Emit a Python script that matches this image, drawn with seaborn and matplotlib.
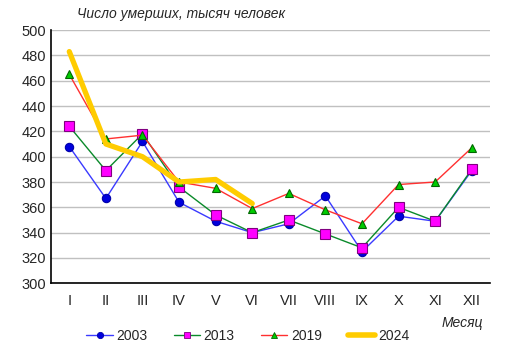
import pandas as pd
import seaborn as sns
import matplotlib.pyplot as plt
from matplotlib.lines import Line2D

#%% data
months = ['I', 'II', 'III', 'IV', 'V', 'VI', 'VII', 'VIII', 'IX', 'X', 'XI', 'XII']
y2003 = [408, 367, 412, 364, 349, 340, 347, 369, 325, 353, 349, 389]
y2013 = [424, 389, 418, 376, 354, 340, 350, 339, 328, 360, 349, 390]
y2019 = [465, 414, 417, 380, 375, 359, 371, 358, 347, 378, 380, 407]
y2024 = [483, 410, 400, 380, 382, 363]

#%% long table
rows = []
for name, vals in [('2003', y2003), ('2013', y2013), ('2019', y2019), ('2024', y2024)]:
    for i, v in enumerate(vals):
        rows.append({'year': name, 'pos': i, 'value': v})
df = pd.DataFrame(rows)

#%% styles: line colour and marker colour differ per series
styles = {
    '2003': dict(color='#3a3aff', marker='o', mfc='#0000dd', mec='#0000aa', ms=6, lw=1.0),
    '2013': dict(color='#0a8a2a', marker='s', mfc='#ff00ff', mec='#800080', ms=6.5, lw=1.0),
    '2019': dict(color='#ff3030', marker='^', mfc='#00cc00', mec='#006600', ms=6, lw=1.0),
    '2024': dict(color='#ffcc00', marker=None, mfc=None, mec=None, ms=0, lw=3.8),
}

sns.set_style('white')
plt.rcParams['font.family'] = ['Liberation Sans', 'DejaVu Sans']

fig = plt.figure(figsize=(5.11, 3.58), dpi=100)
ax = fig.add_axes([0.0998, 0.2087, 0.8592, 0.7073])

handles = []
for name, st in styles.items():
    sub = df[df['year'] == name]
    kw = dict(color=st['color'], linewidth=st['lw'], zorder=5 if name == '2024' else 3)
    if st['marker']:
        kw.update(marker=st['marker'], markerfacecolor=st['mfc'], markeredgecolor=st['mec'],
                  markersize=st['ms'], markeredgewidth=0.8)
    sns.lineplot(data=sub, x='pos', y='value', ax=ax, sort=False, legend=False, **kw)
    if st['marker']:
        handles.append(Line2D([], [], color=st['color'], lw=1.0, marker=st['marker'],
                              markerfacecolor=st['mfc'], markeredgecolor=st['mec'],
                              markersize=4.5, markeredgewidth=0.6))
    else:
        handles.append(Line2D([], [], color=st['color'], lw=4))

ax.set_xlim(-0.5, 11.5)
ax.set_ylim(300, 500)
ax.set_yticks(range(300, 501, 20))
ax.set_xticks(range(12))
ax.set_xticklabels(months)
ax.tick_params(axis='both', labelsize=10.5, length=0)
ax.tick_params(axis='x', pad=8)
ax.yaxis.grid(True, color='#c0c0c0', linewidth=1)
ax.set_axisbelow(True)
for s in ['top', 'right']:
    ax.spines[s].set_visible(False)
for s in ['left', 'bottom']:
    ax.spines[s].set_color('black')
    ax.spines[s].set_linewidth(1.2)
ax.set_xlabel('')
ax.set_ylabel('')

fig.text(0.151, 0.96, 'Число умерших, тысяч человек', style='italic', fontsize=10, va='center')
fig.text(0.945, 0.098, 'Месяц', style='italic', fontsize=10, ha='right', va='center')

fig.legend(handles, ['2003', '2013', '2019', '2024'], loc='center', bbox_to_anchor=(0.485, 0.062),
           ncol=4, frameon=False, fontsize=10, handlelength=1.9, columnspacing=1.9, handletextpad=0.25)

fig.savefig('out.png', dpi=100)
